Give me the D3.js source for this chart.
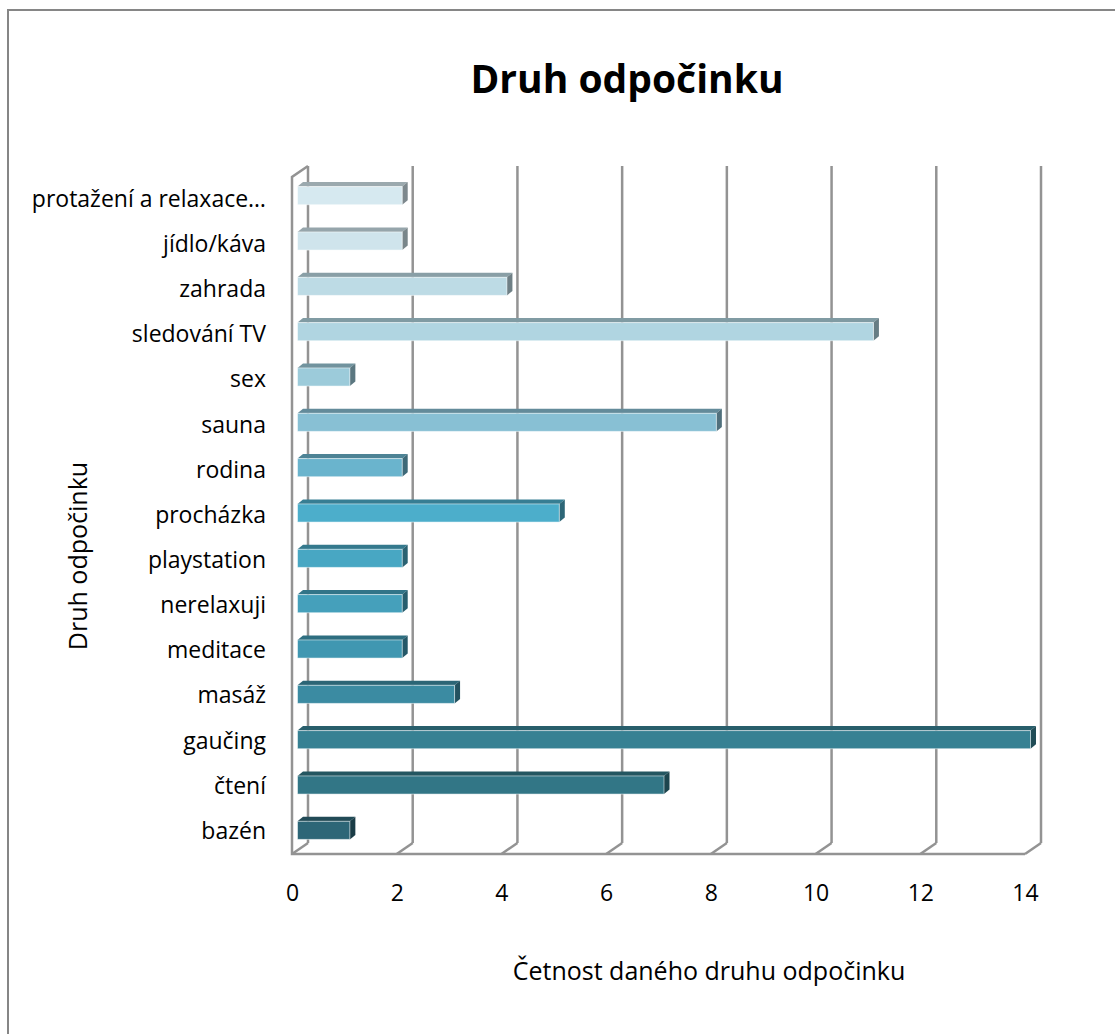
<!DOCTYPE html>
<html>
  <head>
    <meta charset="UTF-8" />
    <title>Druh odpočinku</title>
    <style>
      body { margin: 0; background: #fff; }
      svg { display: block; font-family: "Open Sans", sans-serif; }
    </style>
  </head>
  <body>
    <svg></svg>
    <script src="https://d3js.org/d3.v7.min.js"></script>
    <script>
      // data (top row first)
      var categories = [
        "protažení a relaxace…", "jídlo/káva", "zahrada", "sledování TV", "sex",
        "sauna", "rodina", "procházka", "playstation", "nerelaxuji",
        "meditace", "masáž", "gaučing", "čtení", "bazén"
      ];
      var counts = [2, 2, 4, 11, 1, 8, 2, 5, 2, 2, 2, 3, 14, 7, 1];
      var xTicks = [0, 2, 4, 6, 8, 10, 12, 14];

      // bar colours, light at the top to dark teal at the bottom
      var colours = [
        "#d6e9f0", "#cfe4ec", "#bddbe5", "#b0d5e1", "#9ccbda",
        "#88c0d4", "#6ab4cd", "#4caecb", "#48a7c3", "#45a0bb",
        "#4097b1", "#3b8ba2", "#378193", "#327686", "#2d6677"
      ];

      let width = 1115, height = 1034;
      let svg = d3.select("svg").attr("width", width).attr("height", height);

      // outer chart frame
      svg.append("rect")
        .attr("x", 8).attr("y", 10)
        .attr("width", width + 20).attr("height", height + 20)
        .attr("fill", "none").attr("stroke", "#868686").attr("stroke-width", 2);

      // 3d depth of the plot box and of each bar
      var depthX = 16, depthY = -11;
      var barDX = 5.5, barDY = -4.5;

      var x = d3.scaleLinear().domain([0, 14]).range([292, 1025]);
      var yTop = 177, yBottom = 854;
      var yAxisScale = d3.scaleBand().domain(categories).range([yTop, yBottom]);
      var yBars = d3.scaleBand().domain(categories).range([173, 853])
        .paddingInner(0.6).paddingOuter(0.3);

      var grid = svg.append("g")
        .attr("fill", "none").attr("stroke", "#939393").attr("stroke-width", 2.5);

      // back wall gridlines
      grid.selectAll("line.back")
        .data(xTicks)
        .enter().append("line")
        .attr("class", "back")
        .attr("x1", d => x(d) + depthX).attr("x2", d => x(d) + depthX)
        .attr("y1", yTop + depthY).attr("y2", yBottom + depthY);

      // floor diagonals
      grid.selectAll("line.floor")
        .data(xTicks)
        .enter().append("line")
        .attr("class", "floor")
        .attr("x1", d => x(d)).attr("y1", yBottom)
        .attr("x2", d => x(d) + depthX).attr("y2", yBottom + depthY);

      // left wall edge and floor front edge
      grid.append("path")
        .attr("d", d3.line()([
          [x(0) + depthX, yTop + depthY], [x(0), yTop], [x(0), yBottom], [x(14), yBottom]
        ]));

      // bars: top face, side face, front face
      var bars = svg.append("g").selectAll("g")
        .data(categories)
        .enter().append("g");

      bars.append("path")
        .attr("fill", (d, i) => d3.color(colours[i]).darker(0.9))
        .attr("d", (d, i) => {
          var x0 = x(0) + barDX, x1 = x(counts[i]) + barDX, y0 = yBars(d);
          return d3.line()([[x0, y0], [x0 + barDX, y0 + barDY], [x1 + barDX, y0 + barDY], [x1, y0]]) + "Z";
        });

      bars.append("path")
        .attr("fill", (d, i) => d3.color(colours[i]).darker(1.5))
        .attr("d", (d, i) => {
          var x1 = x(counts[i]) + barDX, y0 = yBars(d), y1 = y0 + yBars.bandwidth();
          return d3.line()([[x1, y0], [x1 + barDX, y0 + barDY], [x1 + barDX, y1 + barDY], [x1, y1]]) + "Z";
        });

      bars.append("rect")
        .attr("x", x(0) + barDX)
        .attr("y", d => yBars(d))
        .attr("width", (d, i) => x(counts[i]) - x(0))
        .attr("height", yBars.bandwidth())
        .attr("fill", (d, i) => colours[i])
        .attr("stroke", "rgba(255,255,255,0.5)").attr("stroke-width", 1);

      // category axis
      var yAxis = svg.append("g")
        .attr("transform", "translate(" + x(0) + ",0)")
        .call(d3.axisLeft(yAxisScale).tickSize(0).tickPadding(26));
      yAxis.select(".domain").remove();
      yAxis.selectAll("text")
        .attr("font-family", "Open Sans").attr("font-size", 23).attr("fill", "#000");

      // value axis
      var xAxis = svg.append("g")
        .attr("transform", "translate(0," + yBottom + ")")
        .call(d3.axisBottom(x).tickValues(xTicks).tickSize(0).tickPadding(31));
      xAxis.select(".domain").remove();
      xAxis.selectAll("text")
        .attr("font-family", "Open Sans").attr("font-size", 23).attr("fill", "#000");

      // titles
      svg.append("text")
        .attr("x", 627).attr("y", 93)
        .attr("text-anchor", "middle")
        .attr("font-size", 39).attr("font-weight", "bold")
        .text("Druh odpočinku");

      svg.append("text")
        .attr("x", 709).attr("y", 980)
        .attr("text-anchor", "middle")
        .attr("font-size", 25)
        .text("Četnost daného druhu odpočinku");

      svg.append("text")
        .attr("transform", "translate(87,556) rotate(-90)")
        .attr("text-anchor", "middle")
        .attr("font-size", 25)
        .text("Druh odpočinku");
    </script>
  </body>
</html>
